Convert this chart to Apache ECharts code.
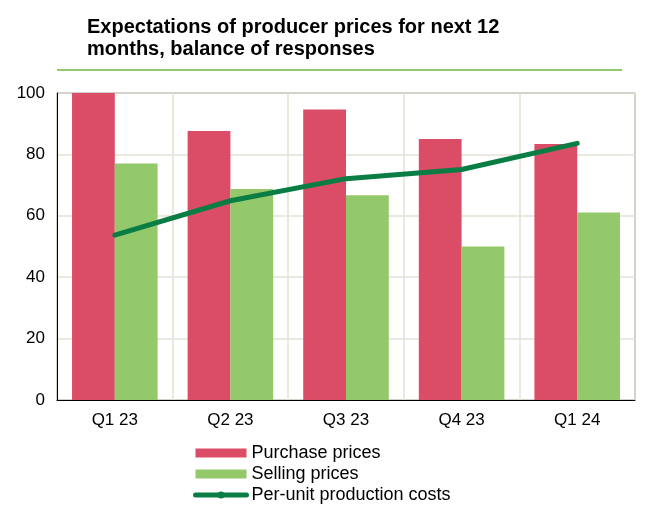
<!DOCTYPE html>
<html>
<head>
    <meta charset="utf-8">
    <title>Producer prices</title>
    <script type="text/javascript" src="https://cdn.jsdelivr.net/npm/echarts@6/dist/echarts.min.js"></script>
    <style>
        body {
            margin: 0px;
            padding: 0px;
        }
        #chart {
            width: 645px;
            height: 507px;
        }
    </style>
</head>
<body>
<div id="chart"></div>
<script type="text/javascript">
    var quarters = ['Q1 23', 'Q2 23', 'Q3 23', 'Q4 23', 'Q1 24'];
    var purchasePrices = [100, 87.6, 94.6, 85, 83.4];
    var sellingPrices = [77, 68.7, 66.7, 50, 61.1];
    var unitCosts = [53.7, 64.9, 72.1, 75.1, 83.6];
    var yTicks = [0, 20, 40, 60, 80, 100];

    var chart = echarts.init(document.getElementById('chart'));
    var font = 'Liberation Sans, Arial, sans-serif';

    var option = {
        animation: false,
        textStyle: {fontFamily: font},
        title: {
            text: 'Expectations of producer prices for next 12\nmonths, balance of responses',
            left: 87,
            top: 16,
            padding: 0,
            textStyle: {fontSize: 20, fontWeight: 'bold', color: '#000', lineHeight: 22, fontFamily: font}
        },
        graphic: [{
            // green rule under the title
            type: 'line',
            shape: {x1: 57, y1: 70, x2: 622, y2: 70},
            style: {stroke: '#92c96a', lineWidth: 2}
        }],
        legend: {
            orient: 'vertical',
            left: 193,
            top: 444,
            padding: 0,
            itemWidth: 51,
            itemHeight: 9,
            itemGap: 3,
            textStyle: {fontSize: 18, lineHeight: 17, color: '#000', fontFamily: font},
            data: [
                {name: 'Purchase prices', icon: 'rect'},
                {name: 'Selling prices', icon: 'rect'},
                {name: 'Per-unit production costs', icon: 'inherit', lineStyle: {width: 5, cap: 'round'}}
            ]
        },
        grid: {
            left: 57,
            right: 10,
            top: 93,
            bottom: 107,
            show: true,
            borderColor: '#555',
            borderWidth: 1
        },
        xAxis: {
            type: 'category',
            data: quarters,
            axisLine: {lineStyle: {color: '#000', width: 1}},
            axisTick: {inside: true, length: 5, lineStyle: {color: '#000'}},
            axisLabel: {fontSize: 17, color: '#000', margin: 12},
            splitLine: {show: true, lineStyle: {color: '#e2e2d6', width: 1.5}}
        },
        yAxis: {
            type: 'value',
            min: yTicks[0],
            max: yTicks[yTicks.length - 1],
            interval: 20,
            axisLine: {show: true, lineStyle: {color: '#000', width: 1}},
            axisTick: {show: false},
            axisLabel: {fontSize: 17, color: '#000', margin: 12},
            splitLine: {lineStyle: {color: '#e2e2d6', width: 1.5}}
        },
        series: [
            {
                name: 'Purchase prices',
                type: 'bar',
                data: purchasePrices,
                barGap: '0%',
                barCategoryGap: '26%',
                itemStyle: {color: '#db4c66'}
            },
            {
                name: 'Selling prices',
                type: 'bar',
                data: sellingPrices,
                itemStyle: {color: '#93c96a'}
            },
            {
                name: 'Per-unit production costs',
                type: 'line',
                data: unitCosts,
                symbol: 'none',
                itemStyle: {color: '#0a7d44'},
                lineStyle: {color: '#0a7d44', width: 5, cap: 'round'}
            }
        ]
    };
    chart.setOption(option);
</script>
</body>
</html>
